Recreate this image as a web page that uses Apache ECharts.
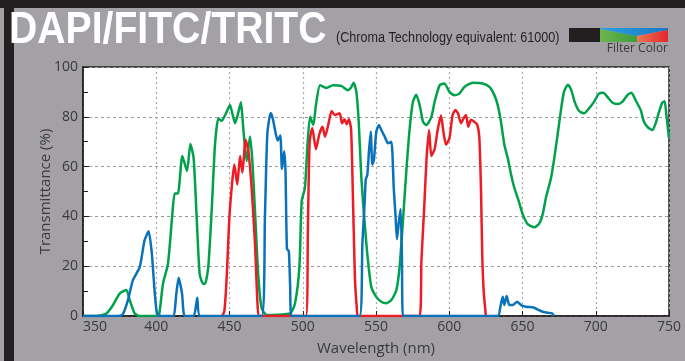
<!DOCTYPE html>
<html><head><meta charset="utf-8">
<script src="https://cdn.jsdelivr.net/npm/echarts@6/dist/echarts.min.js"></script>
<style>html,body{margin:0;padding:0;background:#a3a1a6;}#c{width:685px;height:361px;}</style>
</head><body><div id="c"></div>
<script>
// Wavelength (nm) / transmittance (%) for each filter band
const blueWl = [350,372,377,380.7,384,388.7,392,394.8,397,399,400.5,402,411.4,413.7,415.3,417.6,419.4,425.5,428,430,472,474.2,475.8,478.1,479.5,481.5,482.9,484.7,485.8,487.3,488.2,489.2,490.5,491.4,492.3,538.8,540.7,542.3,543,544.1,545.2,546.4,547.5,548.6,550.2,552,553.6,555.9,558.2,560.5,562.1,563.4,564.3,565.7,566.8,567.7,568.4,633.1,634.9,636.5,637.6,639.2,641,643.3,646.3,649,652.4,657,660.4,663.8,667.2,670.1,671.5];
const blueT  = [0,0,0.5,6.4,14.3,19.6,30.3,34,25,9,1,0,0,9,15.4,9,0,0,7.3,0,0,40,73,81.5,79.4,73.4,70.5,72.5,59,66.2,58.5,27,26,12,0,0,29,46.2,54.8,56.8,66.1,74,60.8,62.8,74,76.7,74.7,72.1,69.4,70,51.5,39.6,30.9,38.3,43,23.6,0,0,3.7,7.7,4.4,8,4.4,4.4,5.7,4.4,3.7,3.5,2.6,1.7,1.3,1.1,0];

const greenWl = [350,359,366,370.5,375,379.6,381.9,385.3,388.7,400,401.9,404.6,408,411,412.6,414.8,417.8,421,423.3,425.5,427.4,429.6,431.9,433.3,435.5,437.8,440.1,442.4,444.6,447.6,450.3,452.2,453.8,455.6,457.8,459.4,461.7,464,465.6,467.4,469.7,472,475.4,491.3,494.7,497.7,499.3,501.5,503.1,505,507.2,509,511.8,516.1,520.6,526.3,530.9,533.2,534.7,536.6,538.2,540,542.3,544.5,546.8,550.2,553.6,557,560.5,563.9,566.1,568.4,570.7,573,575.2,577.5,579.8,582.1,584.4,587.8,590,593.5,596.7,600.1,603.5,606.9,610.3,616,622.8,627.4,630.8,633.1,635.3,637.6,639.9,642.2,644.4,647.4,650.1,653.5,658.1,661.5,663.8,666,669.5,671.6,674,676.2,678.3,681,683.3,685.6,688.6,692,695.4,698.8,702.2,705.2,707.9,711.3,714.7,718.1,721.6,724.3,727.2,730.7,732.9,735.7,738.6,740.9,743.2,745.4,747,748.2,750];
const greenT  = [0,0,1,4.4,9,10.4,6.4,1,0,0,0.3,13,21,41,49.2,49.2,64.3,58.2,69.1,63.5,42,17,13,13,19.6,42,68.8,79.4,78.3,81.4,84.7,80.7,77.4,80.7,85.8,75.4,62.2,72.1,62.2,42.2,15.7,3,0.4,1,5,19.6,46.2,51.5,67.5,80,76.7,84.7,92.7,91.6,92.7,92.4,90.7,92,93.7,90,78,55.5,37,22.3,11.7,7.7,5.7,5.1,6.4,10.4,19.6,38.3,58.2,75.4,86,88.9,84.7,78,76.7,80,86,92.7,93.4,90,88.7,89.3,92,93.7,93.4,92,88.7,84.7,78,68.8,63.5,56.8,51.5,46.2,40.9,36.9,35.6,37.2,40.9,47.5,55.5,63,73,82.5,90,92.9,90.7,86,82.3,81.4,83.4,86,89.3,89.7,88,85.7,85.1,86,88.7,89.7,86.7,82.7,78,75.7,74.7,77.4,82,85.7,86.2,80.7,71.4];

const redWl = [445,446.5,448.1,449.9,451.9,453.3,455.3,457.2,458.8,461,462.9,465.1,467.4,469.2,470.5,502.2,503.5,504.7,506.5,509,511.3,513.5,515.2,517.5,519.7,521.8,525.2,526.8,528.5,530,531.5,533,534.2,535.6,536.8,537.7,579.8,581,582.8,584.4,586.2,587.8,590,592.3,594.4,596,597.8,600.1,602.3,604.2,606,608,609.8,611.4,613,614.8,617.1,619,620.5,621.7,622.5,623.5,625];
const redT  = [0,2,15.7,39.6,54.2,60.8,52.8,64.3,57.6,70.8,66.1,51.5,29,4,0,0,35,70,75.5,67,73,76,72,77,82.3,80.7,81.4,77.4,79,77,79,75,49,15.5,4,0,0,22.3,42.2,62.2,74.7,64.3,67,75.4,80.5,74,68.8,71.4,80.7,82.7,81.4,77.4,79.4,80.7,76,78.8,78,77,72,50,25,10,0];

const xTicks = [350,400,450,500,550,600,650,700,750];
const yTicks = [0,20,40,60,80,100];

const pairs = (xs, ys) => xs.map((x, i) => [x, ys[i]]);
const txt = '#3a3a3a';
const dark = '#231f20';
const chart = echarts.init(document.getElementById('c'), null, {renderer: 'canvas'});
chart.setOption({
  backgroundColor: '#a3a1a6',
  animation: false,
  graphic: [
    {type: 'rect', shape: {x: 0, y: 0, width: 685, height: 8}, style: {fill: dark}},
    {type: 'rect', shape: {x: 4, y: 0, width: 10, height: 361}, style: {fill: dark}},
    {type: 'text', x: 9, y: 31, scaleX: 0.87, style: {x: 0, y: 0, text: 'DAPI/FITC/TRITC', fill: '#ffffff',
      font: 'bold 45px "Liberation Sans", Arial, sans-serif', textVerticalAlign: 'middle'}},
    {type: 'text', x: 336, y: 38, scaleX: 0.9, style: {x: 0, y: 0, text: '(Chroma Technology equivalent: 61000)', fill: dark,
      font: '14px "Liberation Sans", Arial, sans-serif', textVerticalAlign: 'middle'}},
    {type: 'rect', shape: {x: 569, y: 28, width: 31, height: 14}, style: {fill: dark}},
    {type: 'polygon', shape: {points: [[600,29],[637,36],[637,42],[600,42]]},
      style: {fill: new echarts.graphic.LinearGradient(0,0,1,0,[{offset:0,color:'#6db64b'},{offset:1,color:'#3d9d3f'}])}},
    {type: 'polygon', shape: {points: [[600,28],[668,28],[668,30],[637,36],[600,29]]},
      style: {fill: new echarts.graphic.LinearGradient(0,0,1,0,[{offset:0,color:'#2aa0e0'},{offset:1,color:'#1a78c4'}])}},
    {type: 'polygon', shape: {points: [[637,36],[668,30],[668,42],[637,42]]},
      style: {fill: new echarts.graphic.LinearGradient(0,0,1,0,[{offset:0,color:'#f07556'},{offset:1,color:'#e3262b'}])}},
    {type: 'text', style: {x: 668, y: 49, text: 'Filter Color', fill: txt, textAlign: 'right',
      font: '12px "Open Sans", "Noto Sans", sans-serif', textVerticalAlign: 'middle'}}
  ],
  grid: {left: 83, right: 16, top: 67, bottom: 43, show: true, backgroundColor: '#ffffff',
    borderColor: dark, borderWidth: 1.5},
  xAxis: {
    type: 'value', min: xTicks[0], max: xTicks[xTicks.length-1], interval: 50,
    name: 'Wavelength (nm)', nameLocation: 'middle', nameGap: 25,
    nameTextStyle: {color: txt, fontSize: 15, fontFamily: 'Open Sans'},
    axisLine: {lineStyle: {color: dark, width: 1.5}},
    axisTick: {inside: true, length: 5, lineStyle: {color: dark}},
    axisLabel: {color: txt, fontSize: 14, fontFamily: 'Open Sans', margin: 4, alignMinLabel: 'left'},
    splitLine: {show: true, lineStyle: {color: '#a8a8a8', type: [2, 3], width: 1.2}}
  },
  yAxis: {
    type: 'value', min: yTicks[0], max: yTicks[yTicks.length-1], interval: 20,
    name: 'Transmittance (%)', nameLocation: 'middle', nameGap: 30, nameMoveOverlap: false,
    nameTextStyle: {color: txt, fontSize: 15, fontFamily: 'Open Sans'},
    axisLine: {lineStyle: {color: dark, width: 1.5}},
    axisTick: {inside: true, length: 6, lineStyle: {color: dark}},
    minorTick: {show: true, splitNumber: 2, length: 5, lineStyle: {color: dark}},
    axisLabel: {color: txt, fontSize: 14, fontFamily: 'Open Sans', margin: 5},
    splitLine: {show: true, lineStyle: {color: '#999999', type: [3, 3], width: 1}}
  },
  series: [
    {type: 'line', data: pairs(greenWl, greenT), showSymbol: false, smooth: 0.2,
      lineStyle: {color: '#00a14b', width: 2.5}},
    {type: 'line', data: pairs(redWl, redT), showSymbol: false, smooth: 0.2,
      lineStyle: {color: '#ed1c24', width: 2.5}},
    {type: 'line', data: pairs(blueWl, blueT), showSymbol: false, smooth: 0.2,
      lineStyle: {color: '#0a72ba', width: 2.5}}
  ]
});
</script></body></html>
